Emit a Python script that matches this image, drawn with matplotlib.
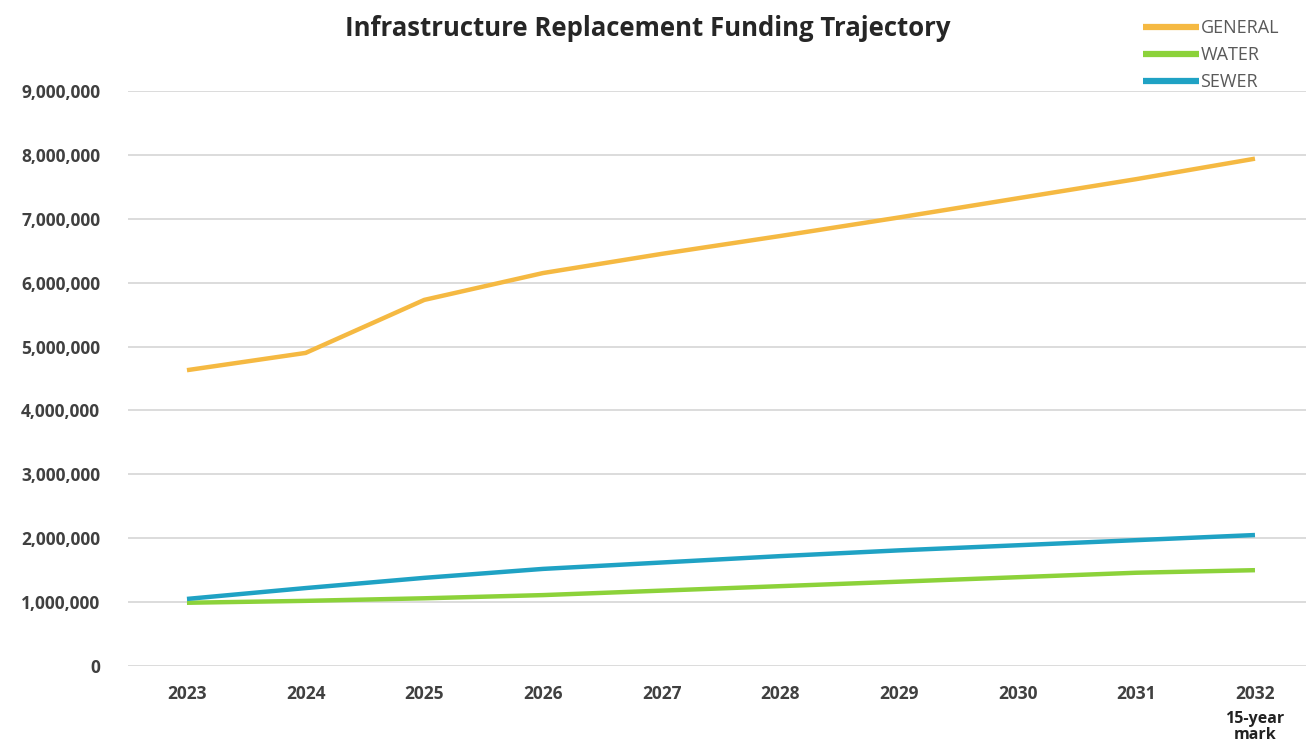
import matplotlib.pyplot as plt
from matplotlib.ticker import FuncFormatter

years = ['2023', '2024', '2025', '2026', '2027', '2028', '2029', '2030', '2031', '2032']
general = [4630000, 4900000, 5730000, 6150000, 6450000, 6730000, 7020000, 7320000, 7620000, 7940000]
water = [990000, 1020000, 1060000, 1110000, 1180000, 1250000, 1320000, 1390000, 1460000, 1500000]
sewer = [1050000, 1220000, 1380000, 1520000, 1620000, 1720000, 1810000, 1890000, 1970000, 2050000]

plt.rcParams['font.family'] = ['Open Sans', 'DejaVu Sans']

fig = plt.figure(figsize=(13.06, 7.43), dpi=100)
ax = fig.add_axes([0.098, 0.1036, 0.902, 0.774])

x = range(len(years))
ax.plot(x, general, color='#F5B942', lw=3.2, label='GENERAL', solid_capstyle='butt')
ax.plot(x, water, color='#8CD23A', lw=3.2, label='WATER', solid_capstyle='butt')
ax.plot(x, sewer, color='#1FA2C4', lw=3.2, label='SEWER', solid_capstyle='butt')

ax.set_xlim(-0.497, 9.43)
ax.set_ylim(0, 9000000)
ax.set_yticks(range(0, 9000001, 1000000))
ax.yaxis.set_major_formatter(FuncFormatter(lambda v, p: f'{int(v):,}'))
ax.set_xticks(list(x))
ax.set_xticklabels(years)
ax.grid(axis='y', color='#D9D9D9', lw=1.3)
ax.set_axisbelow(True)
for s in ax.spines.values():
    s.set_visible(False)
ax.tick_params(length=0, labelsize=12.5, labelcolor='#404040')
ax.tick_params(axis='x', pad=14)
ax.tick_params(axis='y', pad=20)
for t in ax.get_xticklabels() + ax.get_yticklabels():
    t.set_fontweight('bold')

ax.text(len(years) - 1, -0.078, '15-year\nmark', transform=ax.get_xaxis_transform(),
        ha='center', va='top', fontsize=11.5, fontweight='bold', color='#222222', linespacing=1.0)

fig.text(0.496, 0.962, 'Infrastructure Replacement Funding Trajectory', ha='center', va='center',
         fontsize=18.5, fontweight='bold', color='#262626')

leg = fig.legend(loc='upper left', bbox_to_anchor=(0.875, 0.974), frameon=False, fontsize=13,
                 handlelength=3.1, handletextpad=0.1, labelspacing=0.5, borderaxespad=0, borderpad=0)
for t in leg.get_texts():
    t.set_color('#595959')
for l in leg.get_lines():
    l.set_linewidth(4.5)

fig.savefig('out.png', dpi=100)
